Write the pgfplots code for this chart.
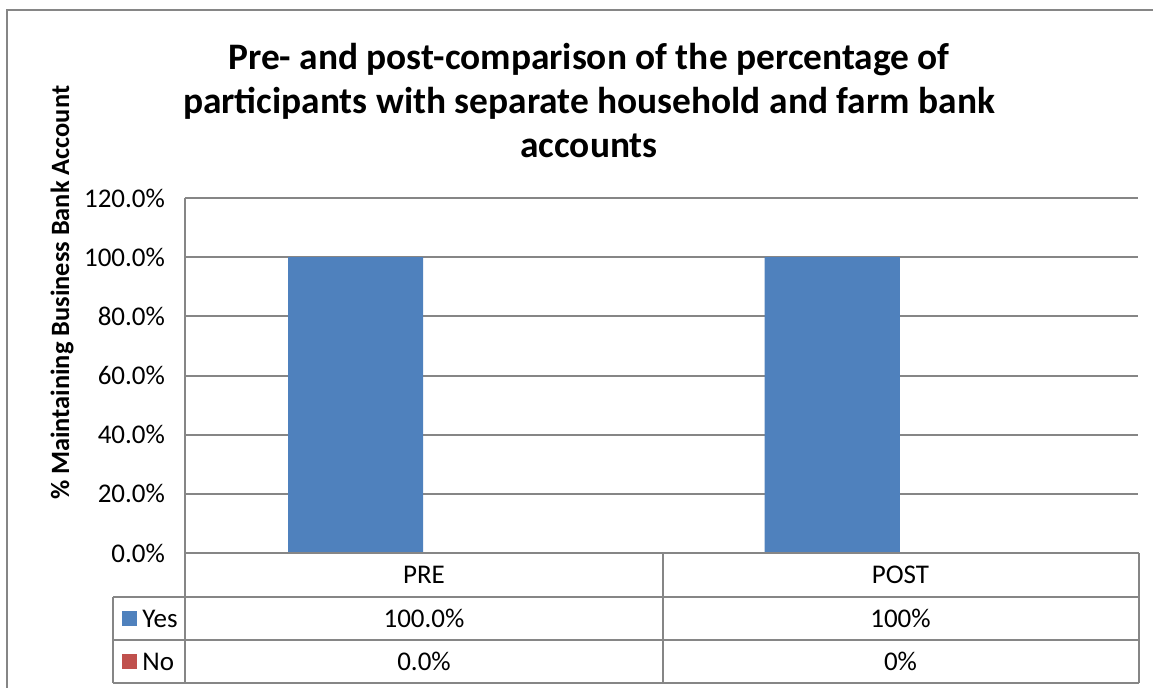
\documentclass[border=0pt]{standalone}
\usepackage{pgfplots}
\pgfplotsset{compat=1.18}
\usepackage{fontspec}
\setmainfont{Carlito}
\definecolor{barblue}{HTML}{4F81BD}
\definecolor{barred}{HTML}{C0504D}
\definecolor{lgrey}{HTML}{868686}
\begin{document}
\begin{tikzpicture}
\useasboundingbox (0pt,0pt) rectangle (576.5pt,343.5pt);
% outer frame (partly outside the page)
\draw[lgrey, line width=1pt] (3.5pt,-10pt) -- (3.5pt,338.5pt) -- (590pt,338.5pt);
\begin{axis}[
  at={(92.5pt,67pt)}, anchor=south west,
  scale only axis, width=476.5pt, height=177.5pt,
  ybar=0pt, bar width=67.5pt,
  xmin=-0.5, xmax=1.5, ymin=0, ymax=120,
  xtick=\empty,
  ytick={0,20,40,60,80,100,120},
  yticklabel={\pgfmathprintnumber[fixed,fixed zerofill,precision=1]{\tick}\%},
  /pgf/number format/assume math mode=true,
  yticklabel style={font=\fontsize{13.5pt}{15pt}\selectfont, xshift=-6.5pt},
  major tick length=0pt,
  axis x line=none, axis y line=left,
  axis line style={lgrey, line width=1pt, -},
  ymajorgrids, grid style={lgrey, line width=1pt},
  clip=false,
]
\addplot[fill=barblue, draw=none] coordinates {(0,100) (1,100)};
\addplot[fill=barred, draw=none] coordinates {(0,0) (1,0)};
\end{axis}
% y axis label
\node[rotate=90, font=\bfseries\fontsize{13.2pt}{14pt}\selectfont] at (31pt,197pt) {\% Maintaining Business Bank Account};
% title
\node[align=center, font=\bfseries\fontsize{18.7pt}{22pt}\selectfont] at (294.5pt,293pt)
  {Pre- and post-comparison of the percentage of\\participants with separate household and farm bank\\accounts};
% data table
\begin{scope}[lgrey, line width=1pt]
\draw (92.5pt,67pt) -- (92.5pt,2pt);
\draw (331.5pt,67pt) -- (331.5pt,2pt);
\draw (569.5pt,67pt) -- (569.5pt,2pt);
\draw (56.5pt,45pt) -- (569.5pt,45pt);
\draw (56.5pt,23.5pt) -- (569.5pt,23.5pt);
\draw (56.5pt,2pt) -- (569.5pt,2pt);
\draw (56.5pt,45pt) -- (56.5pt,2pt);
\draw (92.5pt,67pt) -- (569.5pt,67pt);
\end{scope}
\begin{scope}[font=\fontsize{13.5pt}{15pt}\selectfont]
\node at (212pt,56pt) {PRE};
\node at (450.25pt,56pt) {POST};
\node at (212pt,34.25pt) {100.0\%};
\node at (450.25pt,34.25pt) {100\%};
\node at (212pt,12.75pt) {0.0\%};
\node at (450.25pt,12.75pt) {0\%};
\fill[barblue] (61pt,30.5pt) rectangle (68.5pt,38pt);
\node[anchor=west, inner sep=0pt] at (71pt,34.25pt) {Yes};
\fill[barred] (61pt,9pt) rectangle (68.5pt,16.5pt);
\node[anchor=west, inner sep=0pt] at (71pt,12.75pt) {No};
\end{scope}
\end{tikzpicture}
\end{document}
